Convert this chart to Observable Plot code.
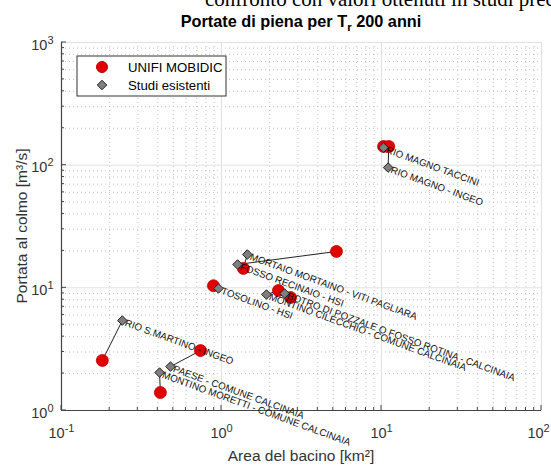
<!DOCTYPE html>
<html>
<head>
<meta charset="utf-8">
<script src="https://cdn.jsdelivr.net/npm/d3@7"></script>
<script src="https://cdn.jsdelivr.net/npm/@observablehq/plot@0.6"></script>
<style>
  html, body { margin: 0; padding: 0; background: #fff; }
  #wrap { position: relative; width: 551px; height: 466px; overflow: hidden; }
  #doc { position: absolute; left: 205px; top: -13px; font-family: "Liberation Serif", serif; font-size: 21px; color: #000; white-space: nowrap; }
  svg { position: absolute; left: 0; top: 0; }
</style>
</head>
<body>
<div id="wrap"><div id="doc">confronto con valori ottenuti in studi precedenti</div></div>
<script>
// ---- data ----
const basins = [
  "RIO MAGNO TACCINI",
  "RIO MAGNO - INGEO",
  "MORTAIO MORTAINO - VITI PAGLIARA",
  "FOSSO RECINAIO - HSI",
  "TOSOLINO - HSI",
  "BOTRO DI POZZALE O FOSSO ROTINA - CALCINAIA",
  "MONTINO CILECCHIO - COMUNE CALCINAIA",
  "RIO S.MARTINO - INGEO",
  "PAESE - COMUNE CALCINAIA",
  "MONTINO MORETTI - COMUNE CALCINAIA"
];
const areaStudy   = [10.3, 11.0, 1.45, 1.26, 0.958, 2.48, 1.91, 0.240, 0.480, 0.410];
const qStudy      = [139, 95.6, 18.7, 15.5, 9.87, 8.99, 8.82, 5.41, 2.28, 2.04];
const areaMobidic = [10.3, 11.1, 1.37, 5.23, 0.891, 2.70, 2.27, 0.180, 0.739, 0.415];
const qMobidic    = [142, 142, 14.4, 19.8, 10.4, 8.34, 9.51, 2.56, 3.08, 1.40];

const xMajor = [0.1, 1, 10, 100];
const xTickExp = ["-1", "0", "1", "2"];
const yMajor = [1, 10, 100, 1000];
const yTickExp = ["0", "1", "2", "3"];

const titleMain = "Portate di piena per T";
const titleSub = "r";
const titleEnd = " 200 anni";
const xLabel = "Area del bacino [km²]";
const yLabel = "Portata al colmo [m³/s]";
const legendLabels = ["UNIFI MOBIDIC", "Studi esistenti"];

// ---- table ----
const rows = basins.map((b, i) => ({
  name: b, as: areaStudy[i], qs: qStudy[i], am: areaMobidic[i], qm: qMobidic[i]
}));
const xLab = new Map(xMajor.map((v, i) => [v, "10^" + xTickExp[i]]));
const yLab = new Map(yMajor.map((v, i) => [v, "10^" + yTickExp[i]]));

const xMinor = d3.scaleLog().domain([0.1, 100]).ticks().filter(v => !xMajor.some(m => Math.abs(m - v) < 1e-9));
const yMinor = d3.scaleLog().domain([1, 1000]).ticks().filter(v => !yMajor.some(m => Math.abs(m - v) < 1e-9));

const red = "#e00000";
const font = "Liberation Sans, Arial, sans-serif";

const plot = Plot.plot({
  width: 551, height: 466,
  marginLeft: 61, marginRight: 10, marginTop: 42, marginBottom: 56,
  style: { fontFamily: font, background: "transparent", overflow: "visible" },
  x: { type: "log", domain: [0.1, 100] },
  y: { type: "log", domain: [1, 1000] },
  marks: [
    Plot.gridX(xMinor, { stroke: "#c4c4c4", strokeOpacity: 1, strokeDasharray: "1,3" }),
    Plot.gridY(yMinor, { stroke: "#c4c4c4", strokeOpacity: 1, strokeDasharray: "1,3" }),
    Plot.gridX(xMajor, { stroke: "#e0e0e0", strokeOpacity: 1 }),
    Plot.gridY(yMajor, { stroke: "#e0e0e0", strokeOpacity: 1 }),
    Plot.axisX(xMajor, { tickSize: 0, tickPadding: 17, fontSize: 14.5, fill: "#333",
      tickFormat: d => xLab.get(d), label: null }),
    Plot.axisY(yMajor, { tickSize: 0, tickPadding: 8, dy: 2.5, fontSize: 14.5, fill: "#333",
      tickFormat: d => yLab.get(d), label: null }),
    Plot.ruleX([0.1], { stroke: "#444", strokeWidth: 1.2 }),
    Plot.ruleY([1], { stroke: "#444", strokeWidth: 1.2 }),
    Plot.link(rows, { x1: "am", y1: "qm", x2: "as", y2: "qs", stroke: "#222", strokeWidth: 1 }),
    Plot.dot(rows, { x: "am", y: "qm", r: 6, fill: red, stroke: "#c00000", strokeWidth: 0.8 }),
    Plot.dot(rows, { x: "as", y: "qs", r: 4.3, symbol: "diamond2", fill: "#7f7f7f", stroke: "#222", strokeWidth: 1 }),
    Plot.text(rows, { x: "as", y: "qs", text: "name", textAnchor: "start", lineAnchor: "middle",
      rotate: 20, dx: 3, dy: 2, fontSize: 9.8, fill: "#111", fontFamily: font })
  ]
});

const svg = d3.select(plot);
const sx = plot.scale("x"), sy = plot.scale("y");
const X0 = sx.apply(0.1), Y0 = sy.apply(1);

// superscript tick labels
svg.selectAll('[aria-label="x-axis tick label"] text, [aria-label="y-axis tick label"] text').each(function () {
  const parts = this.textContent.split("^");
  const s = d3.select(this);
  s.text(null);
  s.append("tspan").text(parts[0]);
  s.append("tspan").attr("dy", -6).attr("font-size", 11).text(parts[1]);
});
// keep the last x tick label inside the picture
const xt = svg.selectAll('[aria-label="x-axis tick label"] text').nodes();
if (xt.length) {
  const last = d3.select(xt[xt.length - 1]);
  const tr = last.attr("transform") || "";
  last.attr("transform", tr + " translate(-3,0)");
}

// inward ticks
const tg = svg.append("g").attr("stroke", "#444").attr("stroke-width", 1);
xMajor.forEach(v => tg.append("line").attr("x1", sx.apply(v)).attr("x2", sx.apply(v)).attr("y1", Y0).attr("y2", Y0 - 5));
xMinor.forEach(v => tg.append("line").attr("x1", sx.apply(v)).attr("x2", sx.apply(v)).attr("y1", Y0).attr("y2", Y0 - 3));
yMajor.forEach(v => tg.append("line").attr("y1", sy.apply(v)).attr("y2", sy.apply(v)).attr("x1", X0).attr("x2", X0 + 5));
yMinor.forEach(v => tg.append("line").attr("y1", sy.apply(v)).attr("y2", sy.apply(v)).attr("x1", X0).attr("x2", X0 + 3));

// title
const cx = (sx.apply(0.1) + sx.apply(100)) / 2;
const t = svg.append("text").attr("x", cx).attr("y", 26.5).attr("text-anchor", "middle")
  .attr("font-family", font).attr("font-size", 16.3).attr("font-weight", "bold").attr("fill", "#000");
t.append("tspan").text(titleMain);
t.append("tspan").attr("dy", 4).attr("font-size", 11.5).text(titleSub);
t.append("tspan").attr("dy", -4).text(titleEnd);

// axis labels
svg.append("text").attr("x", cx).attr("y", 461).attr("text-anchor", "middle")
  .attr("font-family", font).attr("font-size", 15.5).attr("fill", "#333").text(xLabel);
svg.append("text").attr("transform", `translate(27,${(sy.apply(1) + sy.apply(1000)) / 2}) rotate(-90)`)
  .attr("text-anchor", "middle").attr("font-family", font).attr("font-size", 15.5).attr("fill", "#333").text(yLabel);

// legend
const lg = svg.append("g");
lg.append("rect").attr("x", 77).attr("y", 56).attr("width", 149).attr("height", 40)
  .attr("fill", "#fff").attr("stroke", "#333").attr("stroke-width", 1);
lg.append("circle").attr("cx", 102).attr("cy", 67).attr("r", 5.5).attr("fill", red).attr("stroke", "#c00000");
lg.append("path").attr("d", d3.symbol(d3.symbolDiamond2, Math.PI * 4.3 * 4.3)()).attr("transform", "translate(102,85)")
  .attr("fill", "#7f7f7f").attr("stroke", "#222");
lg.append("text").attr("x", 128).attr("y", 71.5).attr("text-anchor", "start").attr("font-family", font).attr("font-size", 13.2).attr("fill", "#000").text(legendLabels[0]);
lg.append("text").attr("x", 128).attr("y", 89.5).attr("text-anchor", "start").attr("font-family", font).attr("font-size", 13.2).attr("fill", "#000").text(legendLabels[1]);

document.getElementById("wrap").appendChild(plot);
</script>
</body>
</html>
